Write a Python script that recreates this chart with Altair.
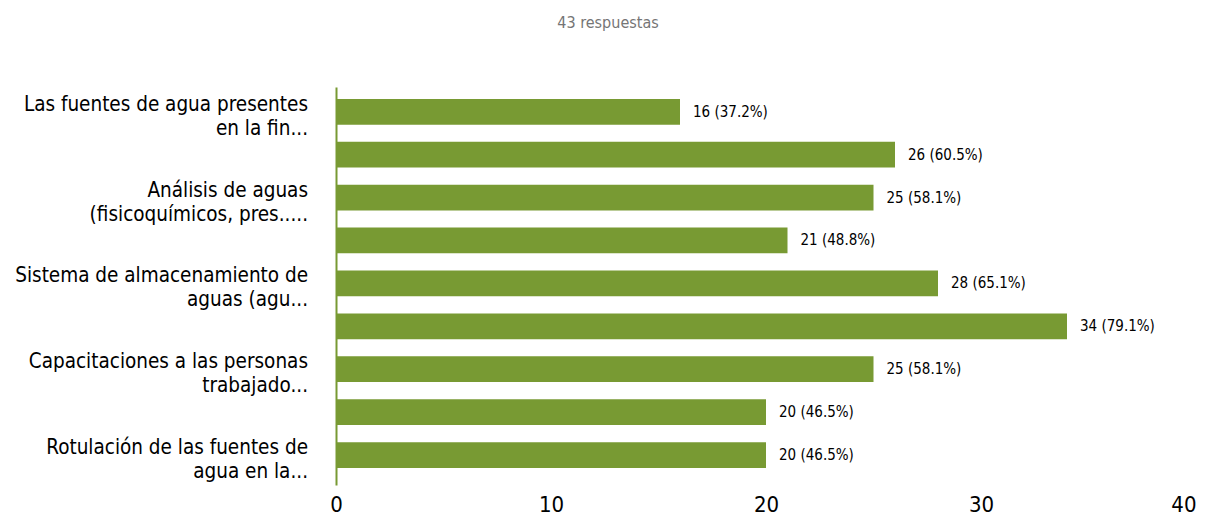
import altair as alt
import pandas as pd

rows = [1, 2, 3, 4, 5, 6, 7, 8, 9]
counts = [16, 26, 25, 21, 28, 34, 25, 20, 20]
total = 43
labels = [
    "Las fuentes de agua presentes\nen la fin...",
    "",
    "Análisis de aguas\n(fisicoquímicos, pres.....",
    "",
    "Sistema de almacenamiento de\naguas (agu...",
    "",
    "Capacitaciones a las personas\ntrabajado...",
    "",
    "Rotulación de las fuentes de\nagua en la...",
]
x_ticks = [0, 10, 20, 30, 40]

df = pd.DataFrame({
    "row": rows,
    "count": counts,
    "label": labels,
    "value_text": [f"{c} ({c / total * 100:.1f}%)" for c in counts],
})

FONT = "Liberation Sans Narrow, DejaVu Sans Condensed, Roboto"
GREEN = "#789a33"

y_enc = alt.Y(
    "row:O",
    sort=rows,
    scale=alt.Scale(paddingInner=0.4, paddingOuter=0.338, align=0.41),
    axis=alt.Axis(labels=False, ticks=False, title=None,
                  domainColor=GREEN, domainWidth=2),
)

base = alt.Chart(df)

bars = base.mark_bar(color=GREEN).encode(
    x=alt.X(
        "count:Q",
        scale=alt.Scale(domain=[0, 40], nice=False),
        axis=alt.Axis(values=x_ticks, title=None, grid=False, domain=False,
                      ticks=False, labelFontSize=22, labelColor="#000000",
                      labelFont=FONT, labelPadding=9, labelFlush=False,
                      labelOverlap=False,
                      labelAlign={"condition": {"test": "datum.value == 40",
                                                "value": "right"},
                                  "value": "center"}),
    ),
    y=y_enc,
)

values = base.mark_text(align="left", baseline="middle", dx=13, fontSize=15,
                        font=FONT, color="#000000").encode(
    x="count:Q",
    y=alt.Y("row:O", sort=rows),
    text="value_text:N",
)

cats = base.mark_text(align="right", baseline="middle", fontSize=20.5,
                      font=FONT, color="#000000", lineBreak="\n",
                      lineHeight=24, dy=-7).encode(
    x=alt.value(-28),
    y=alt.Y("row:O", sort=rows),
    text="label:N",
)

chart = alt.layer(bars, values, cats).properties(
    width=860,
    height=398,
    title=alt.TitleParams("43 respuestas", fontSize=16, font=FONT,
                          color="#757575", fontWeight="normal",
                          anchor="middle", dx=-158, offset=56),
    autosize=alt.AutoSizeParams(type="none"),
    padding={"left": 328, "top": 79, "right": 6, "bottom": 30},
).configure_view(stroke=None)

chart.save("out.html", embed_options={"renderer": "svg", "actions": False})
